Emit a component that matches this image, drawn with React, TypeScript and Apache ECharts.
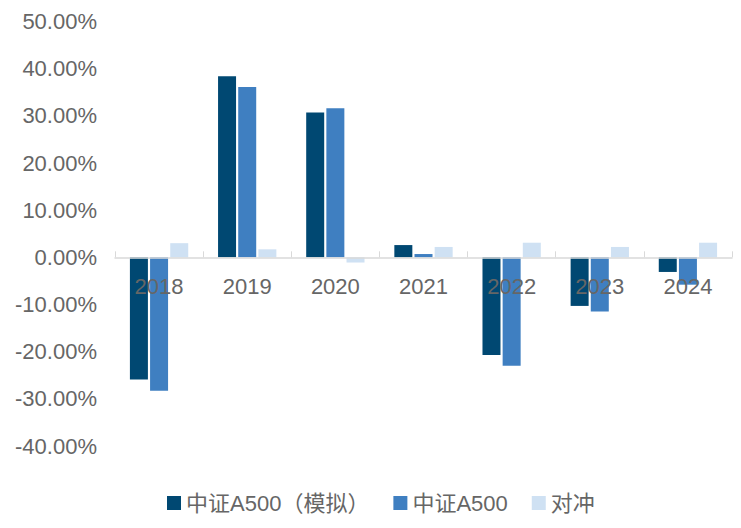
import React, { useEffect, useRef } from "react";
import * as echarts from "echarts";

const categories = ["2018", "2019", "2020", "2021", "2022", "2023", "2024"];
const simulated = [-25.9, 38.4, 30.7, 2.6, -20.7, -10.3, -3.1];
const a500 = [-28.3, 36.1, 31.6, 0.7, -23.0, -11.5, -5.8];
const hedge = [3.0, 1.7, -1.1, 2.2, 3.1, 2.2, 3.1];
const seriesNames = ["中证A500（模拟）", "中证A500", "对冲"];
const colors = ["#004872", "#3f7fc1", "#cfe1f3"];

const Y_MIN = -40;
const Y_MAX = 50;

export default function App() {
  const ref = useRef<HTMLDivElement>(null);
  useEffect(() => {
    if (!ref.current) return;
    const chart = echarts.init(ref.current, undefined, { renderer: "svg" });
    const font = "'Liberation Sans', Arial, 'Noto Sans CJK SC', sans-serif";
    const textColor = "#666666";
    const gridTop = 13.5;
    const gridBottom = 74;
    const height = 512;
    const plotH = height - gridTop - gridBottom;
    const zeroFromBottom = (plotH * (0 - Y_MIN)) / (Y_MAX - Y_MIN);
    const mk = (name: string, data: number[], color: string) => ({
      name,
      type: "bar",
      data,
      barWidth: 18,
      barGap: "12%",
      itemStyle: { color },
    });
    chart.setOption({
      animation: false,
      textStyle: { fontFamily: font },
      grid: { left: 107, right: 1, top: gridTop, bottom: gridBottom, containLabel: false },
      legend: {
        top: 479,
        left: 154,
        itemWidth: 14,
        itemHeight: 14,
        itemGap: 24,
        icon: "rect",
        textStyle: { color: textColor, fontSize: 22, fontFamily: font },
        data: seriesNames,
      },
      xAxis: [
        {
          type: "category",
          data: categories,
          axisLine: { onZero: true, lineStyle: { color: "#d9d9d9", width: 1.5 } },
          axisTick: { show: true, inside: true, length: 6, lineStyle: { color: "#d9d9d9" } },
          axisLabel: { show: false },
          z: 10,
        },
        {
          type: "category",
          data: categories,
          position: "bottom",
          offset: -zeroFromBottom,
          axisLine: { show: false },
          axisTick: { show: false },
          axisLabel: { color: textColor, fontSize: 22, margin: 18, fontFamily: font },
          z: 10,
        },
      ],
      yAxis: {
        type: "value",
        min: Y_MIN,
        max: Y_MAX,
        interval: 10,
        splitLine: { show: false },
        axisLine: { show: false },
        axisTick: { show: false },
        axisLabel: {
          color: textColor,
          fontSize: 22,
          margin: 18,
          fontFamily: font,
          formatter: (v: number) => v.toFixed(2) + "%",
        },
      },
      series: [
        mk(seriesNames[0], simulated, colors[0]),
        mk(seriesNames[1], a500, colors[1]),
        mk(seriesNames[2], hedge, colors[2]),
      ],
    });
    return () => chart.dispose();
  }, []);
  return <div ref={ref} style={{ width: 725, height: 512 }} />;
}
